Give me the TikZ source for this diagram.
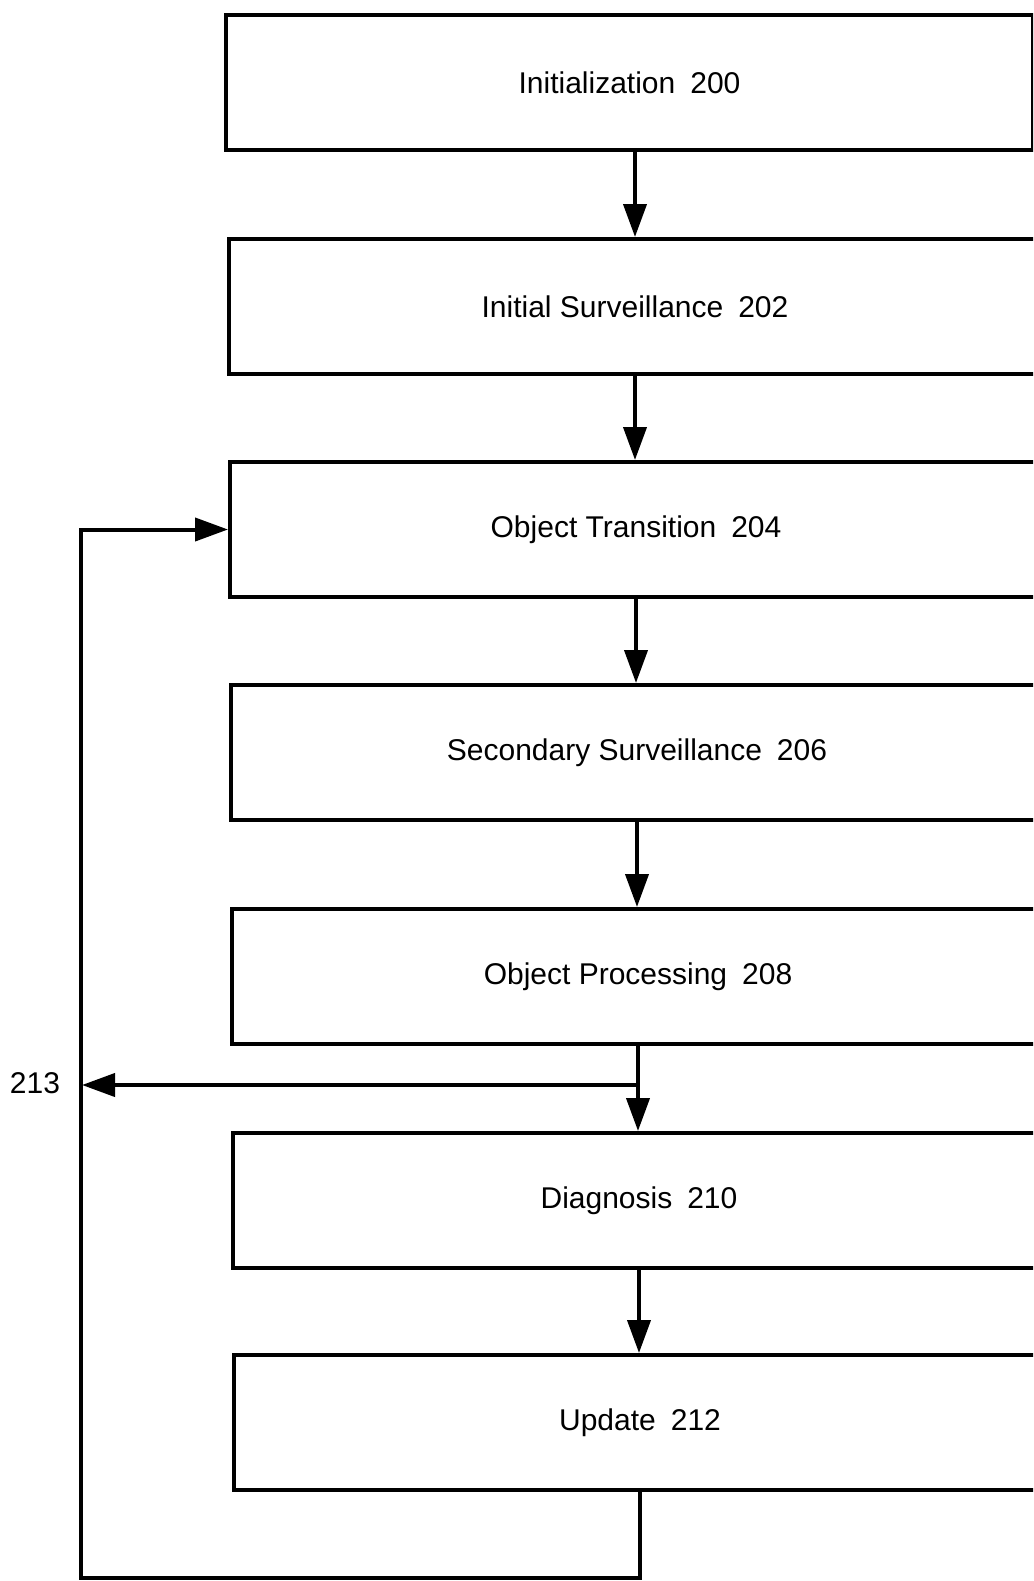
\documentclass[tikz,border=0pt]{standalone}
\usepackage{fontspec}
\setmainfont{Liberation Sans}
\usetikzlibrary{arrows.meta}
\begin{document}
\begin{tikzpicture}[x=1pt,y=-1pt,
  stepbox/.style={draw,line width=4pt,rectangle,minimum width=812pt,minimum height=135pt,anchor=north west,inner sep=0pt,font=\fontsize{30}{35}\selectfont},
  arr/.style={line width=4pt,-{Triangle[length=33pt,width=23pt]}},
  lbl/.style={font=\fontsize{30}{35}\selectfont,inner sep=0pt}]
\useasboundingbox (0,0) rectangle (1033,1581);
\clip (0,0) rectangle (1033,1581);
\fill[white] (0,0) rectangle (1033,1581);
\node[stepbox,minimum width=807pt] (b200) at (224,13) {Initialization\enspace200};
\node[stepbox] (b202) at (227,237) {Initial Surveillance\enspace202};
\node[stepbox] (b204) at (228,460) {Object Transition\enspace204};
\node[stepbox] (b206) at (229,683) {Secondary Surveillance\enspace206};
\node[stepbox] (b208) at (230,907) {Object Processing\enspace208};
\node[stepbox] (b210) at (231,1131) {Diagnosis\enspace210};
\node[stepbox] (b212) at (232,1353) {Update\enspace212};
\draw[arr] (b202.north |- b200.south) -- (b202.north);
\draw[arr] (b202.south) -- (b202.south |- b204.north);
\draw[arr] (b204.south) -- (b204.south |- b206.north);
\draw[arr] (b206.south) -- (b206.south |- b208.north);
\draw[arr] (b208.south) -- (b208.south |- b210.north);
\draw[arr] (b210.south) -- (b210.south |- b212.north);
\coordinate (j) at (b208.south |- 0,1085);
\coordinate (l213) at (82,1085);
\node[lbl] (t213) at (35,1083) {213};
\draw[arr] (j) -- (l213);
\coordinate (bl) at (81,1578);
\draw[arr,line join=miter] (b212.south) |- (bl) |- (b204.west);
\end{tikzpicture}
\end{document}
